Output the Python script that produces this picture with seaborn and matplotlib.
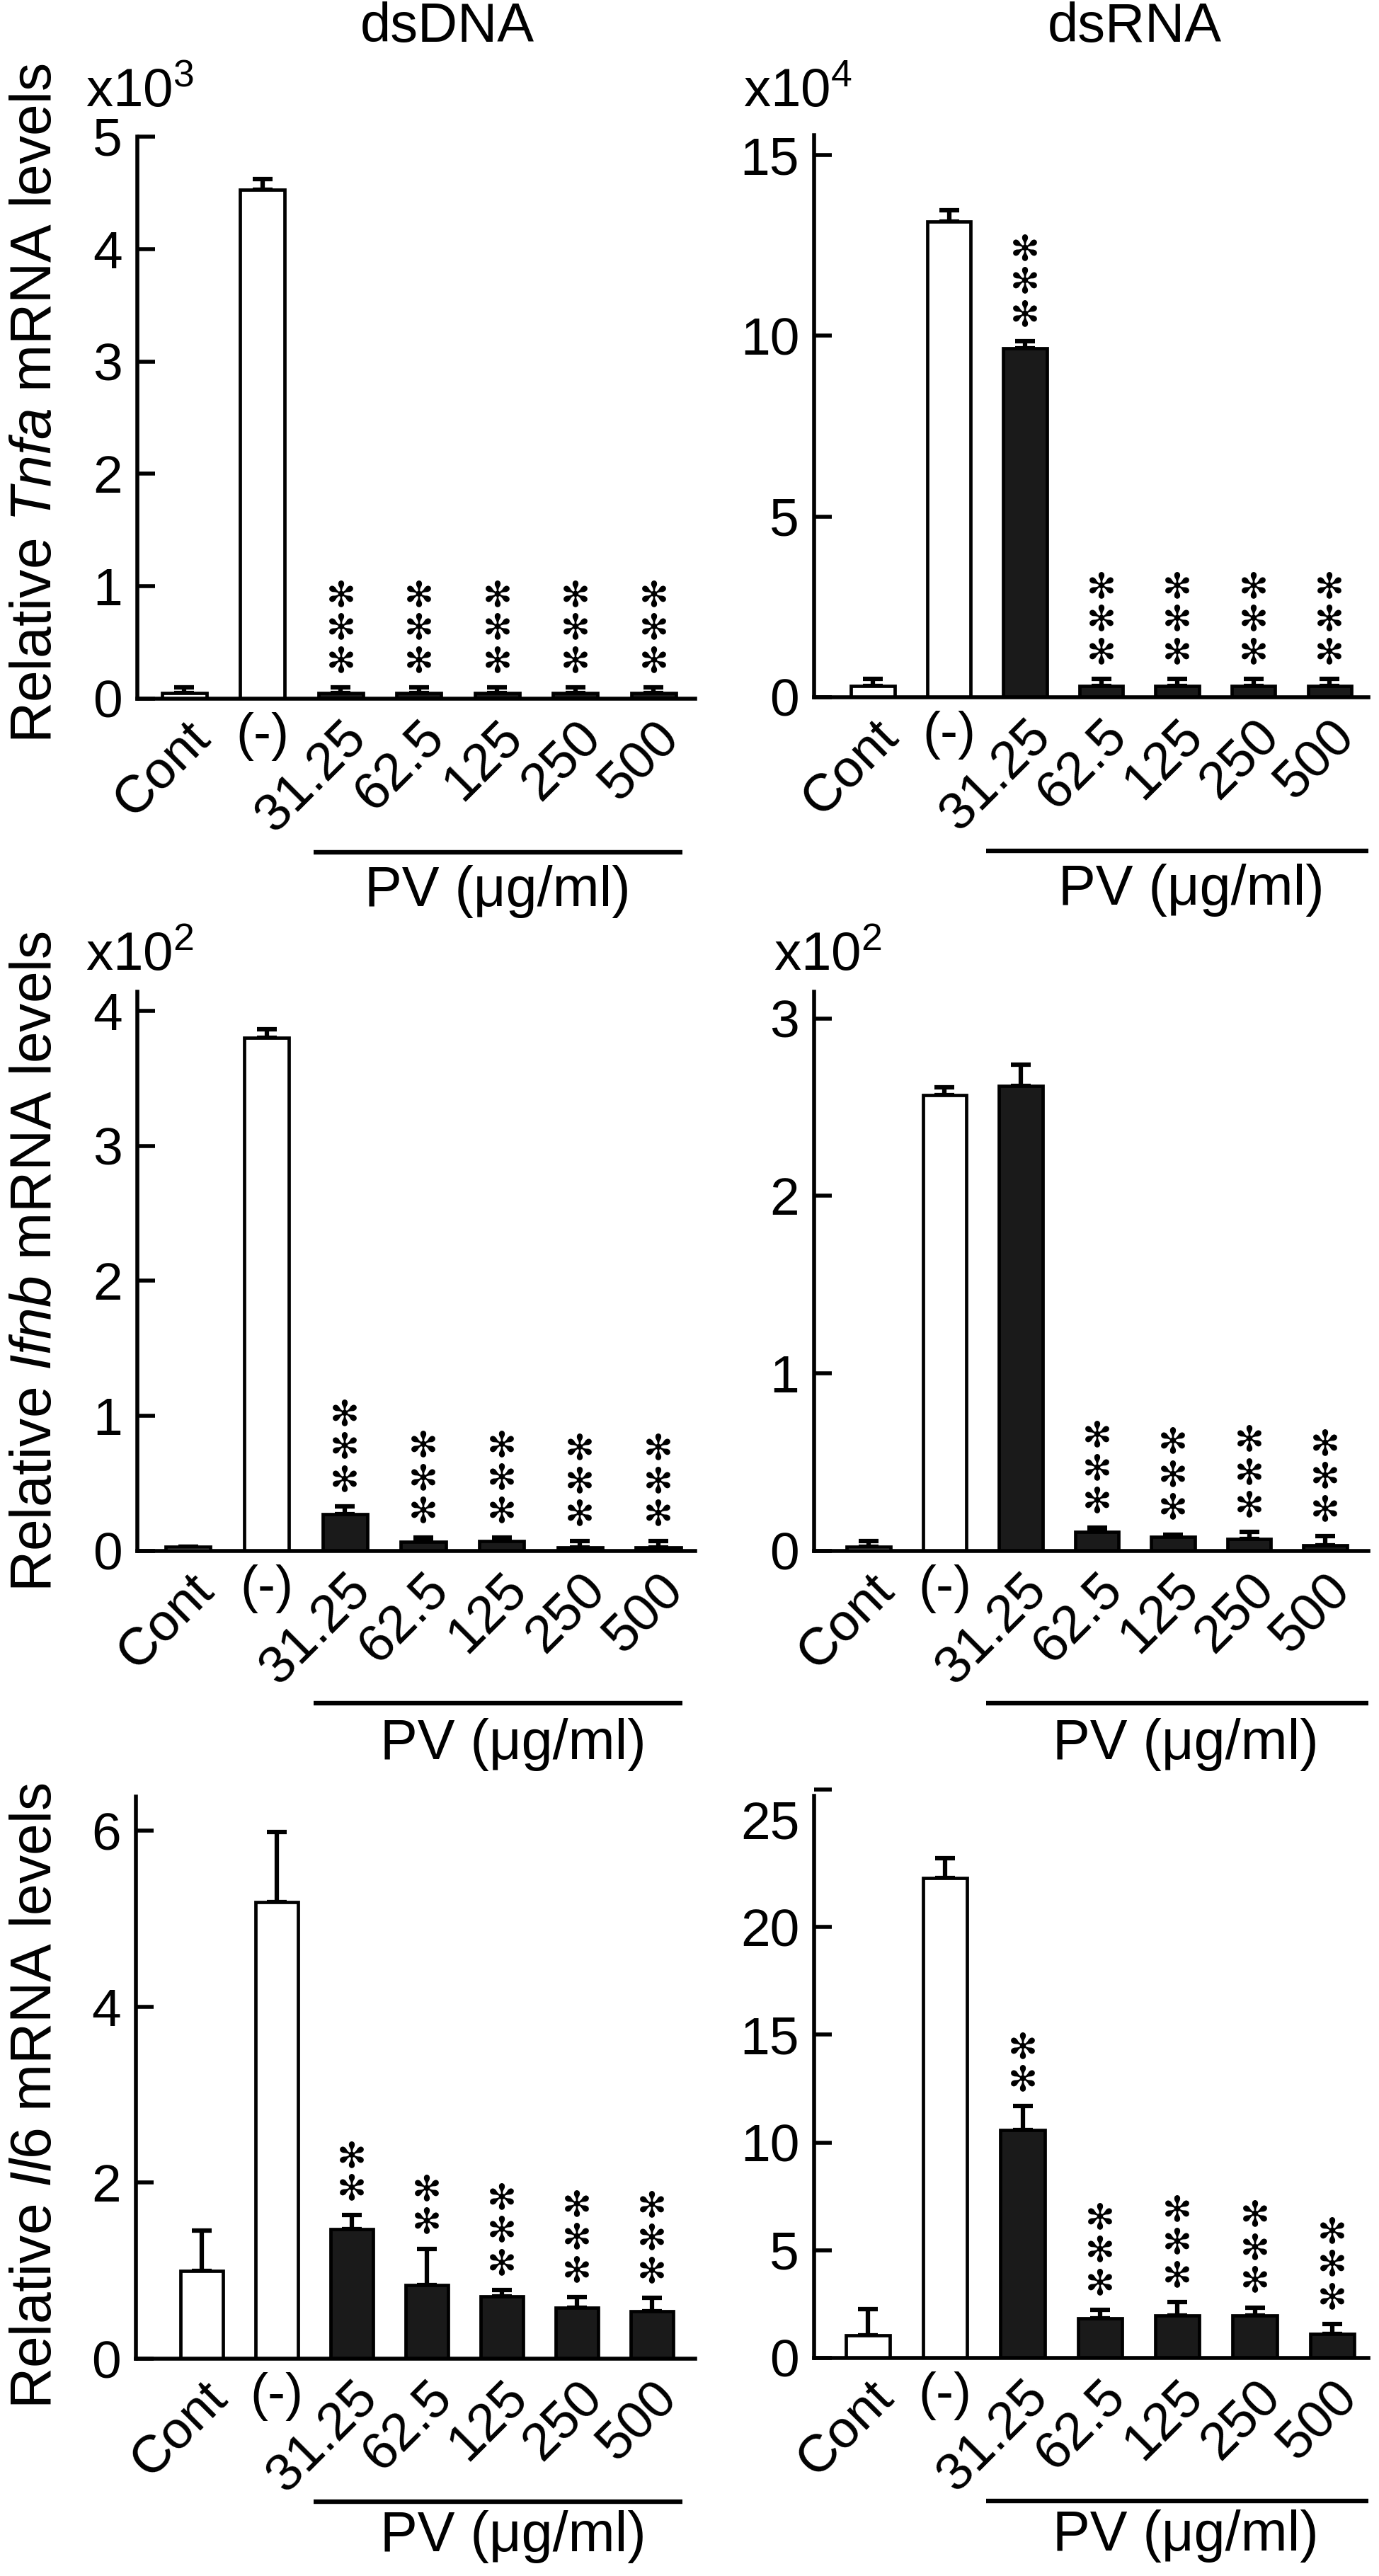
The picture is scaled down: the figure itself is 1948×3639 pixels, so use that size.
import numpy as np
import pandas as pd
import matplotlib
matplotlib.use("Agg")
import matplotlib.pyplot as plt
import seaborn as sns
from matplotlib.transforms import blended_transform_factory, ScaledTranslation

# ---------------- data ----------------
categories = ["Cont", "(-)", "31.25", "62.5", "125", "250", "500"]
bar_fills = ["white", "white", "#1a1a1a", "#1a1a1a", "#1a1a1a", "#1a1a1a", "#1a1a1a"]
label_rotation = [45, 0, 45, 45, 45, 45, 45]

tnfa_dsdna = [0.05, 4.53, 0.05, 0.05, 0.05, 0.05, 0.05]          # x10^3
tnfa_dsdna_err = [0.05, 0.09, 0.05, 0.05, 0.05, 0.05, 0.05]
tnfa_dsdna_stars = [0, 0, 3, 3, 3, 3, 3]

tnfa_dsrna = [0.31, 13.17, 9.65, 0.31, 0.31, 0.31, 0.31]          # x10^4
tnfa_dsrna_err = [0.2, 0.3, 0.2, 0.2, 0.2, 0.2, 0.2]
tnfa_dsrna_stars = [0, 0, 3, 3, 3, 3, 3]

ifnb_dsdna = [0.03, 3.80, 0.27, 0.067, 0.075, 0.025, 0.025]       # x10^2
ifnb_dsdna_err = [0.0, 0.06, 0.06, 0.03, 0.025, 0.05, 0.05]
ifnb_dsdna_stars = [0, 0, 3, 3, 3, 3, 3]

ifnb_dsrna = [0.025, 2.566, 2.62, 0.106, 0.08, 0.068, 0.032]      # x10^2
ifnb_dsrna_err = [0.032, 0.045, 0.12, 0.024, 0.013, 0.038, 0.052]
ifnb_dsrna_stars = [0, 0, 0, 3, 3, 3, 3]

il6_dsdna = [1.0, 5.19, 1.47, 0.84, 0.71, 0.58, 0.54]
il6_dsdna_err = [0.46, 0.80, 0.16, 0.41, 0.07, 0.12, 0.15]
il6_dsdna_stars = [0, 0, 2, 2, 3, 3, 3]

il6_dsrna = [1.04, 22.27, 10.59, 1.84, 1.97, 1.97, 1.12]
il6_dsrna_err = [1.24, 0.91, 1.09, 0.39, 0.63, 0.37, 0.46]
il6_dsrna_stars = [0, 0, 2, 3, 3, 3, 3]

column_titles = ["dsDNA", "dsRNA"]
group_label = "PV (\u03bcg/ml)"

# ---------------- style ----------------
sns.set_theme(style="ticks")
plt.rcParams["font.family"] = ["Liberation Sans", "DejaVu Sans"]
plt.rcParams["mathtext.fontset"] = "custom"
plt.rcParams["mathtext.rm"] = "Liberation Sans"
plt.rcParams["mathtext.it"] = "Liberation Sans:italic"
plt.rcParams["mathtext.bf"] = "Liberation Sans:bold"
for k in ["text.color", "axes.labelcolor", "xtick.color", "ytick.color", "axes.edgecolor"]:
    plt.rcParams[k] = "black"

W, H = 1949, 3639
DPI = 100
fig = plt.figure(figsize=(W / DPI, H / DPI), dpi=DPI)
fig.patch.set_facecolor("white")


def rect(l, r, t, b):
    return [l / W, 1 - b / H, (r - l) / W, (b - t) / H]


TICK_FS = 54
panels = [
    dict(vals=tnfa_dsdna, errs=tnfa_dsdna_err, stars=tnfa_dsdna_stars,
         box=(194, 982, 193, 987), xlim=(-0.6, 6.53), ylim=(0, 5), ticks=[0, 1, 2, 3, 4, 5],
         mult=r"$\mathregular{x10^{3}}$", mult_xy=(121, 151),
         ylab=r"Relative $\mathit{Tnfa}$ mRNA levels", ylab_y=570,
         pv_line=(0.316, 0.977), pv_text=0.646, pv_dy=(217, 293)),
    dict(vals=tnfa_dsrna, errs=tnfa_dsrna_err, stars=tnfa_dsrna_stars,
         box=(1150, 1933, 191, 985), xlim=(-0.772, 6.51), ylim=(0, 15.55), ticks=[0, 5, 10, 15],
         mult=r"$\mathregular{x10^{4}}$", mult_xy=(1050, 151),
         ylab=None, pv_line=(0.310, 1.0), pv_text=0.681, pv_dy=(217, 293)),
    dict(vals=ifnb_dsdna, errs=ifnb_dsdna_err, stars=ifnb_dsdna_stars,
         box=(194, 982, 1401, 2191), xlim=(-0.65, 6.47), ylim=(0, 4.14), ticks=[0, 1, 2, 3, 4],
         mult=r"$\mathregular{x10^{2}}$", mult_xy=(121, 1371),
         ylab=r"Relative $\mathit{Ifnb}$ mRNA levels", ylab_y=1782,
         pv_line=(0.316, 0.977), pv_text=0.673, pv_dy=(215, 294)),
    dict(vals=ifnb_dsrna, errs=ifnb_dsrna_err, stars=ifnb_dsrna_stars,
         box=(1150, 1933, 1401, 2191), xlim=(-0.716, 6.567), ylim=(0, 3.15), ticks=[0, 1, 2, 3],
         mult=r"$\mathregular{x10^{2}}$", mult_xy=(1093, 1371),
         ylab=None, pv_line=(0.310, 1.0), pv_text=0.670, pv_dy=(215, 294)),
    dict(vals=il6_dsdna, errs=il6_dsdna_err, stars=il6_dsdna_stars,
         box=(192, 982, 2538, 3332), xlim=(-0.877, 6.575), ylim=(0, 6.39), ticks=[0, 2, 4, 6],
         mult=None, ylab=r"Relative $\mathit{Il6}$ mRNA levels", ylab_y=2961,
         pv_line=(0.318, 0.977), pv_text=0.675, pv_dy=(202, 272)),
    dict(vals=il6_dsrna, errs=il6_dsrna_err, stars=il6_dsrna_stars,
         box=(1150, 1933, 2528, 3331), xlim=(-0.695, 6.467), ylim=(0, 26.38), ticks=[0, 5, 10, 15, 20, 25],
         mult=None, ylab=None, pv_line=(0.310, 1.0), pv_text=0.670, pv_dy=(202, 272),
         top_dash=True, spine_top=26.1),
]

for p in panels:
    ax = fig.add_axes(rect(*p["box"]))
    df = pd.DataFrame({"group": pd.Categorical(categories, categories=categories, ordered=True),
                       "value": p["vals"]})
    sns.barplot(data=df, x="group", y="value", order=categories, color="white",
                edgecolor="black", linewidth=3.4, width=0.57, errorbar=None, ax=ax)
    for patch, c in zip(ax.patches, bar_fills):
        patch.set_facecolor(c)
        patch.set_edgecolor("black")
        patch.set_zorder(2)
    x = np.arange(len(categories))
    ax.errorbar(x, p["vals"], yerr=[np.zeros(len(x)), p["errs"]], fmt="none",
                ecolor="black", elinewidth=4.5, capsize=10, capthick=4.5, zorder=1)

    ax.set_xlim(*p["xlim"])
    ax.set_ylim(*p["ylim"])
    ax.set_yticks(p["ticks"])
    ax.set_yticklabels([str(t) for t in p["ticks"]])
    ax.set_xlabel("")
    ax.set_ylabel("")
    sns.despine(ax=ax)
    for s in ["left", "bottom"]:
        ax.spines[s].set_linewidth(4)
        ax.spines[s].set_color("black")
    ax.tick_params(axis="y", direction="in", length=18, width=4, labelsize=TICK_FS, pad=15)
    ax.tick_params(axis="x", length=0, labelsize=TICK_FS, pad=14)
    for lab, rot in zip(ax.get_xticklabels(), label_rotation):
        if rot:
            lab.set_rotation(rot)
            lab.set_ha("right")
            lab.set_va("top")
            lab.set_rotation_mode("anchor")
        else:
            lab.set_rotation(0)
            lab.set_ha("center")
            lab.set_va("top")

    if p.get("top_dash"):
        ax.spines["left"].set_bounds(0, p["spine_top"])
        ax.yaxis.get_major_ticks()[-1].tick1line.set_visible(False)
        ax.set_yticks([p["ylim"][1]], minor=True)
        ax.tick_params(axis="y", which="minor", direction="in", length=18, width=4, left=True)

    # significance stars stacked above each error bar
    for i, n in enumerate(p["stars"]):
        for k in range(n):
            ax.annotate("\u273b", xy=(i, p["vals"][i] + p["errs"][i]),
                        xytext=(0, 26 + k * 33.5), textcoords="offset points",
                        ha="center", va="center", fontsize=36, family="DejaVu Sans",
                        annotation_clip=False)

    # PV group bracket and label
    base = blended_transform_factory(ax.transAxes, ax.transAxes)
    dl, dt = p["pv_dy"]
    tline = base + ScaledTranslation(0, -dl / DPI, fig.dpi_scale_trans)
    ttext = base + ScaledTranslation(0, -dt / DPI, fig.dpi_scale_trans)
    ax.plot(list(p["pv_line"]), [0, 0], transform=tline, clip_on=False, color="black",
            lw=4.6, solid_capstyle="butt")
    ax.text(p["pv_text"], 0, group_label, transform=ttext, ha="center", va="baseline",
            fontsize=57)

    if p["mult"]:
        fig.text(p["mult_xy"][0] / W, 1 - p["mult_xy"][1] / H, p["mult"],
                 ha="left", va="baseline", fontsize=55)
    if p["ylab"]:
        fig.text(72 / W, 1 - p["ylab_y"] / H, p["ylab"], rotation=90,
                 rotation_mode="anchor", ha="center", va="baseline", fontsize=58)

fig.text(632 / W, 1 - 59 / H, column_titles[0], ha="center", va="baseline", fontsize=56)
fig.text(1603 / W, 1 - 59 / H, column_titles[1], ha="center", va="baseline", fontsize=56)

fig.savefig("out.png", dpi=DPI, facecolor="white")
